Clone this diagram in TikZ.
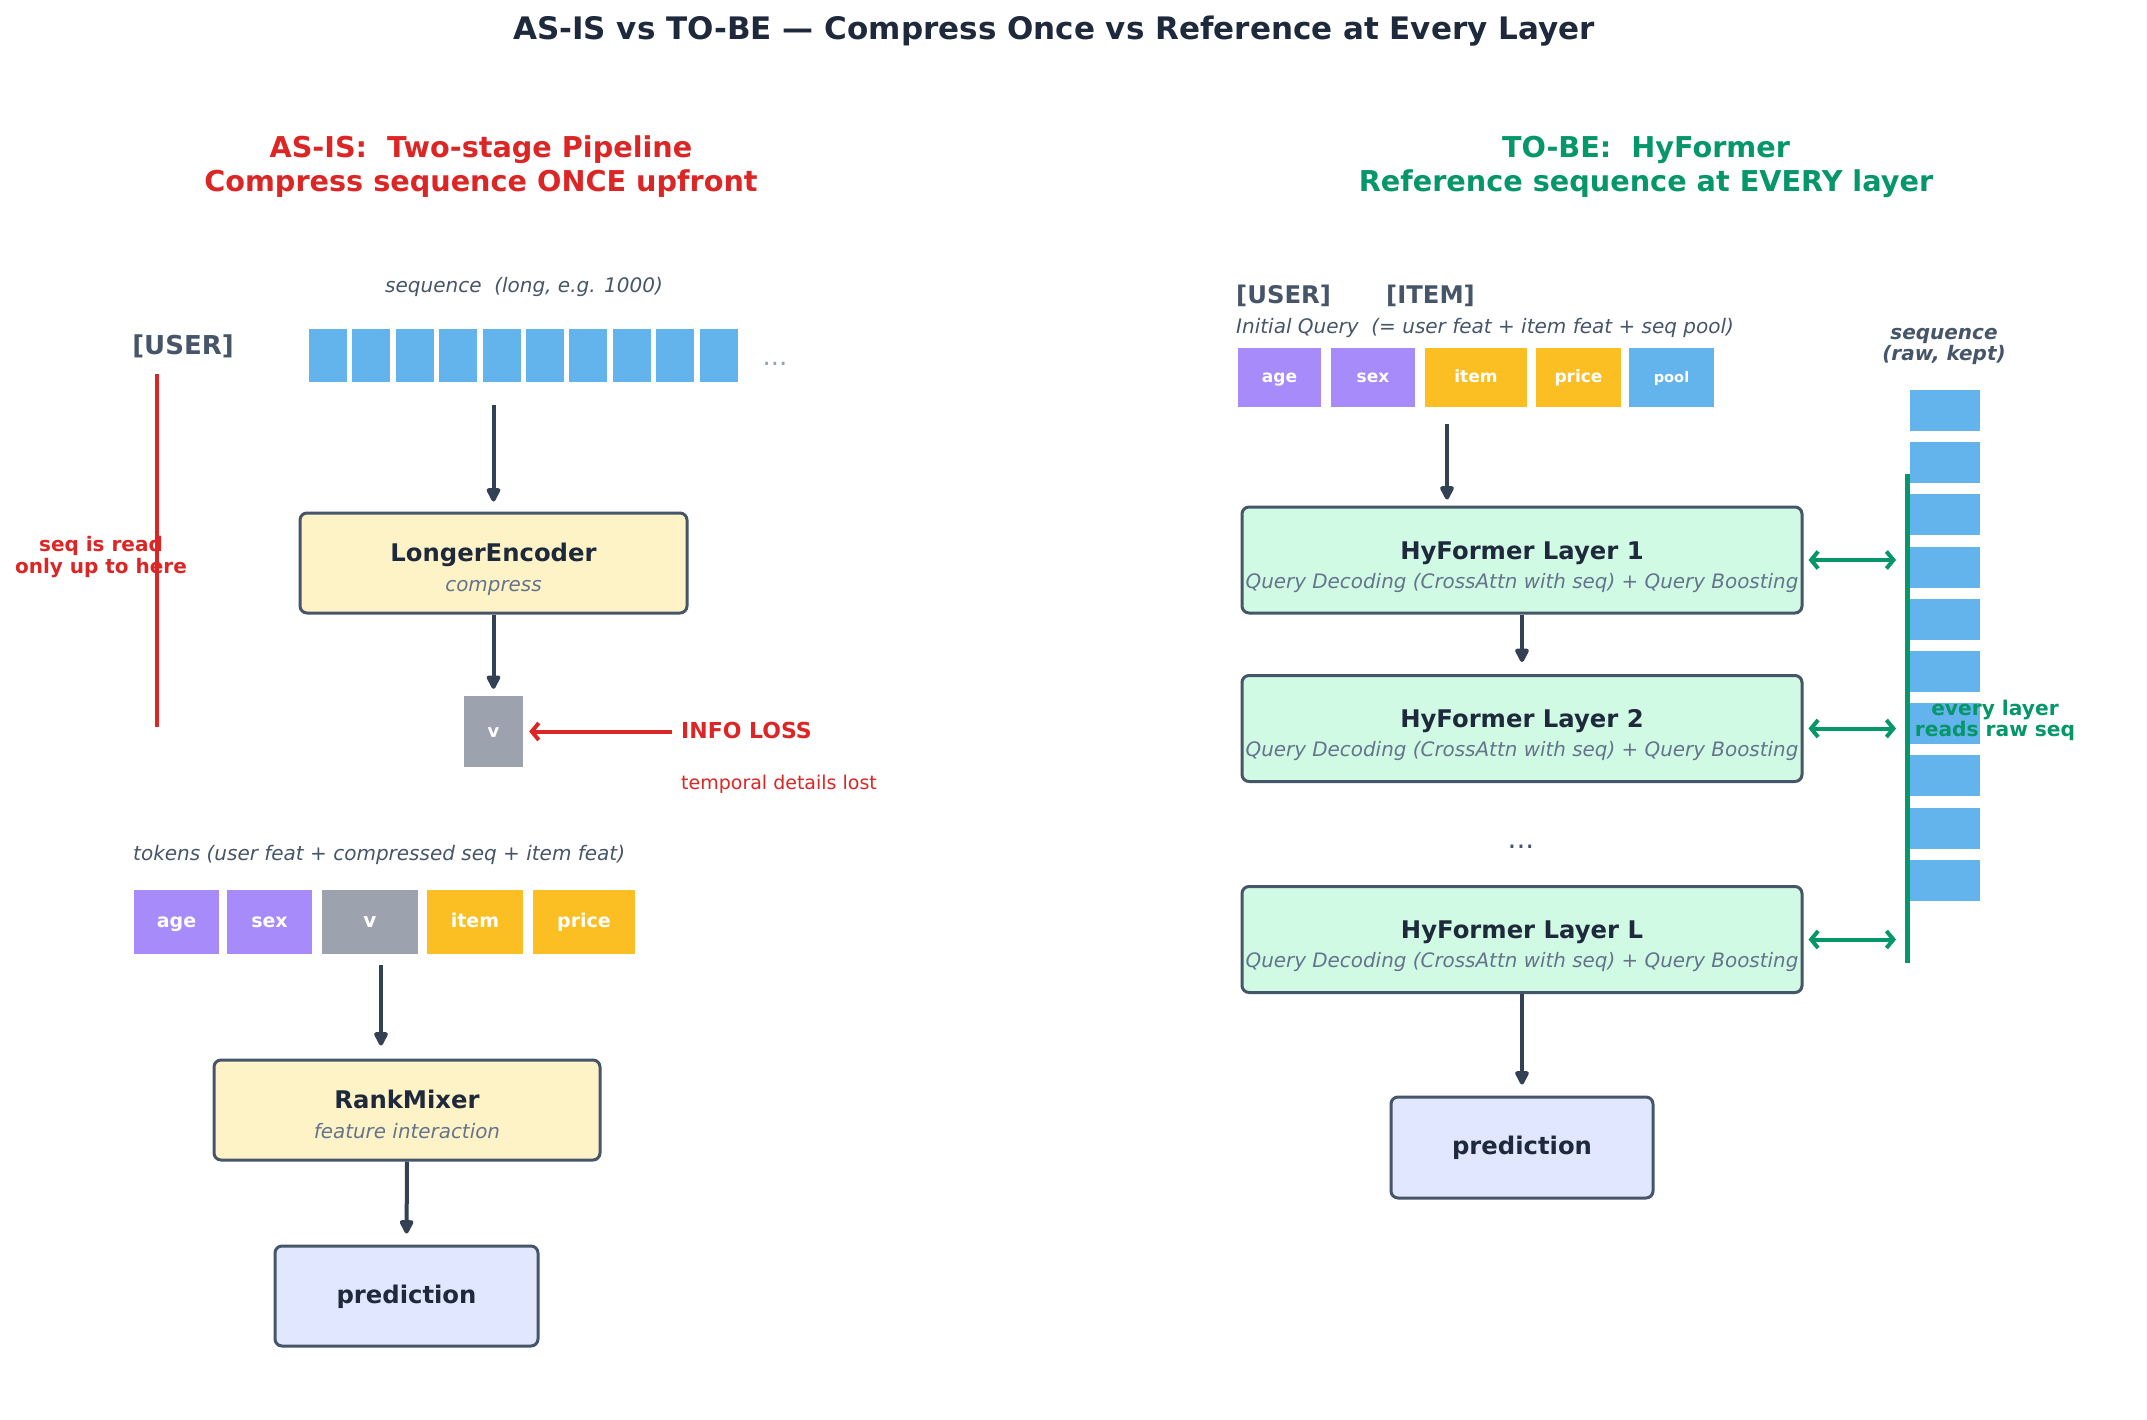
\documentclass[tikz,border=0pt]{standalone}
\usepackage{fontspec}
\setmainfont{DejaVu Sans}
\usetikzlibrary{arrows.meta}
\definecolor{ttl}{HTML}{1E293B}
\definecolor{slate}{HTML}{475569}
\definecolor{subc}{HTML}{64748B}
\definecolor{arr}{HTML}{334155}
\definecolor{redc}{HTML}{DC2626}
\definecolor{greenc}{HTML}{059669}
\definecolor{bluec}{HTML}{63B3ED}
\definecolor{purp}{HTML}{A78BFA}
\definecolor{amber}{HTML}{FBBF24}
\definecolor{grayc}{HTML}{9CA3AF}
\definecolor{dotc}{HTML}{94A3B8}
\definecolor{yellowf}{HTML}{FEF3C7}
\definecolor{greenf}{HTML}{D1FAE5}
\definecolor{indf}{HTML}{E0E7FF}
\newcommand{\myfs}[1]{\fontsize{#1}{#1}\selectfont}
\tikzset{
  txt/.style={inner sep=0pt, anchor=base},
  box/.style={draw=slate, line width=3pt, rounded corners=7pt, inner sep=0pt},
  tok/.style={inner sep=0pt, text=white, font=\bfseries\myfs{17}, text depth=0pt},
  seqblk/.style={fill=bluec, inner sep=0pt},
  flow/.style={draw=arr, line width=4pt, -{Triangle[length=16pt,width=15pt,round]}},
  link/.style={draw=greenc, line width=4pt, {Straight Barb[length=7pt,width=17pt]}-{Straight Barb[length=7pt,width=17pt]}},
  redarr/.style={draw=redc, line width=4pt, -{Straight Barb[length=7pt,width=17pt]}},
  boxtitle/.style={txt, text=ttl, font=\bfseries\myfs{24.3}},
  boxsub/.style={txt, text=subc, font=\itshape\myfs{19.9}},
  note/.style={txt, text=slate, font=\itshape\myfs{20}}
}
\begin{document}
\begin{tikzpicture}[x=1pt,y=-1pt]
\useasboundingbox[fill=white] (0,0) rectangle (2147,1419);

% ---------- title ----------
\node[txt, text=ttl, font=\bfseries\myfs{31}] (title) at (1054,39.3) {AS-IS vs TO-BE — Compress Once vs Reference at Every Layer};

% ---------- headings ----------
\node[txt, text=redc, font=\bfseries\myfs{28.7}] (hl1) at (481,157.5) {AS-IS: \ Two-stage Pipeline};
\node[txt, text=redc, font=\bfseries\myfs{28.7}] (hl2) at (481,191.5) {Compress sequence ONCE upfront};
\node[txt, text=greenc, font=\bfseries\myfs{28.7}] (hr1) at (1646,157.5) {TO-BE: \ HyFormer};
\node[txt, text=greenc, font=\bfseries\myfs{28.7}] (hr2) at (1646,191.5) {Reference sequence at EVERY layer};

% ================= LEFT =================
\node[note] (seqlab) at (524,292.6) {sequence \ (long, e.g. 1000)};
\node[txt, text=slate, font=\bfseries\myfs{26}] (userL) at (183,354.6) {[USER]};
\foreach \i in {0,...,9}
  \node[seqblk, minimum width=38pt, minimum height=53pt] (s\i) at ({328+43.4*\i},355.5) {};
\node[txt, text=dotc, font=\myfs{26}] (dotsL) at (775,365) {...};

% red bracket line
\coordinate (rtop) at (157,374);
\coordinate (rbot) at (157,727);
\draw[redc, line width=4pt] (rtop) -- (rbot);
\node[txt, text=redc, font=\bfseries\myfs{20}] (readA) at (101,551.6) {seq is read};
\node[txt, text=redc, font=\bfseries\myfs{20}] (readB) at (101,573.6) {only up to here};

% LongerEncoder
\node[box, fill=yellowf, minimum width=387pt, minimum height=100pt] (le) at (493.5,563) {};
\node[boxtitle] (leT) at (493.5,561.7) {LongerEncoder};
\node[boxsub] (leS) at (493.5,591.7) {compress};
\coordinate (seqout) at (493.5,405);
\draw[flow, shorten >=10pt] (seqout) -- (seqout |- le.north);

% v
\node[fill=grayc, inner sep=0pt, minimum width=59pt, minimum height=71pt, text=white, font=\bfseries\myfs{18}, text height=11pt, text depth=0pt] (v) at (493.5,731.5) {v};
\draw[flow, shorten >=7pt] (le.south) -- (v.north);

% info loss
\coordinate (infoS) at (672,731.5);
\draw[redarr, shorten >=6pt] (infoS) -- (v.east);
\node[txt, anchor=base west, text=redc, font=\bfseries\myfs{22}] (info) at (681,738.5) {INFO LOSS};
\node[txt, anchor=base west, text=redc, font=\myfs{19}] (lost) at (681,789.3) {temporal details lost};

% tokens
\node[note, anchor=base west] (toklab) at (133,860.8) {tokens (user feat + compressed seq + item feat)};
\node[tok, fill=purp, minimum width=85pt, minimum height=64pt, font=\bfseries\myfs{19}, text height=11.6pt] (tage) at (176.5,921.5) {age};
\node[tok, fill=purp, minimum width=85pt, minimum height=64pt, font=\bfseries\myfs{19}, text height=11.6pt] (tsex) at (269.5,921.5) {sex};
\node[tok, fill=grayc, minimum width=96pt, minimum height=64pt, font=\bfseries\myfs{20}, text height=11.6pt] (tv) at (370,921.5) {v};
\node[tok, fill=amber, minimum width=96pt, minimum height=64pt, font=\bfseries\myfs{19}, text height=11.6pt] (titem) at (475,921.5) {item};
\node[tok, fill=amber, minimum width=102pt, minimum height=64pt, font=\bfseries\myfs{19}, text height=11.6pt] (tprice) at (584,921.5) {price};

% RankMixer
\node[box, fill=yellowf, minimum width=386pt, minimum height=100pt] (rm) at (407,1110) {};
\node[boxtitle] (rmT) at (407,1108.7) {RankMixer};
\node[boxsub] (rmS) at (407,1138.7) {feature interaction};
\coordinate (tokout) at (381,965);
\draw[flow, shorten >=13pt] (tokout) -- (tokout |- rm.north);

% prediction left
\node[box, fill=indf, minimum width=263pt, minimum height=100pt, text=ttl, font=\bfseries\myfs{24.3}, text height=14pt, text depth=0pt] (predL) at (406.5,1296) {prediction};
\draw[flow, shorten >=11pt] (rm.south) -- (predL.north);

% ================= RIGHT =================
\node[txt, anchor=base west, text=slate, font=\bfseries\myfs{24.3}] (userR) at (1236,303.3) {[USER]};
\node[txt, anchor=base west, text=slate, font=\bfseries\myfs{24.3}] (itemR) at (1386,303.3) {[ITEM]};
\node[note, anchor=base west] (iq) at (1236,333.3) {Initial Query \ (= user feat + item feat + seq pool)};

\node[tok, fill=purp, minimum width=83pt, minimum height=59pt, text height=9.6pt] (qage) at (1279.5,377.5) {age};
\node[tok, fill=purp, minimum width=84pt, minimum height=59pt, text height=9.6pt] (qsex) at (1373,377.5) {sex};
\node[tok, fill=amber, minimum width=102pt, minimum height=59pt, text height=9.6pt] (qitem) at (1476,377.5) {item};
\node[tok, fill=amber, minimum width=85pt, minimum height=59pt, text height=9.6pt] (qprice) at (1578.5,377.5) {price};
\node[tok, fill=bluec, minimum width=85pt, minimum height=59pt, font=\bfseries\myfs{14.6}, text height=9.6pt] (qpool) at (1671.5,377.5) {pool};

% sequence column
\node[txt, text=slate, font=\bfseries\itshape\myfs{20}] (rsA) at (1944,339.3) {sequence};
\node[txt, text=slate, font=\bfseries\itshape\myfs{20}] (rsB) at (1944,360.7) {(raw, kept)};
\foreach \i in {0,...,9}
  \node[seqblk, minimum width=70pt, minimum height=41pt] (r\i) at (1945,{410.5+52.2*\i}) {};

% layers
\node[box, fill=greenf, minimum width=560pt, minimum height=106pt] (l1) at (1522,560) {};
\node[boxtitle] (l1T) at (1522,559) {HyFormer Layer 1};
\node[boxsub] (l1S) at (1522,588.3) {Query Decoding (CrossAttn with seq) + Query Boosting};

\node[box, fill=greenf, minimum width=560pt, minimum height=106pt] (l2) at (1522,728.5) {};
\node[boxtitle] (l2T) at (1522,727.5) {HyFormer Layer 2};
\node[boxsub] (l2S) at (1522,756.8) {Query Decoding (CrossAttn with seq) + Query Boosting};

\node[txt, text=slate, font=\myfs{28}] (dotsR) at (1521,848) {...};

\node[box, fill=greenf, minimum width=560pt, minimum height=106pt] (lL) at (1522,939.5) {};
\node[boxtitle] (lLT) at (1522,938.5) {HyFormer Layer L};
\node[boxsub] (lLS) at (1522,967.8) {Query Decoding (CrossAttn with seq) + Query Boosting};

\node[box, fill=indf, minimum width=262pt, minimum height=101pt, text=ttl, font=\bfseries\myfs{24.3}, text height=13.5pt, text depth=0pt] (predR) at (1522,1147.5) {prediction};

\coordinate (qout) at (1447,424);
\draw[flow, shorten >=6pt] (qout) -- (qout |- l1.north);
\draw[flow, shorten >=12pt] (l1.south) -- (l2.north);
\draw[flow, shorten >=11pt] (lL.south) -- (predR.north);

% green line and links
\coordinate (gtop) at (1907,474);
\coordinate (gbot) at (1907,963);
\draw[greenc, line width=5pt] (gtop) -- (gbot);
\draw[link, shorten <=5pt, shorten >=11pt] (l1.east) -- (l1.east -| gtop);
\draw[link, shorten <=5pt, shorten >=11pt] (l2.east) -- (l2.east -| gtop);
\draw[link, shorten <=5pt, shorten >=11pt] (lL.east) -- (lL.east -| gtop);

\node[txt, text=greenc, font=\bfseries\myfs{20.2}] (evA) at (1995,715.7) {every layer};
\node[txt, text=greenc, font=\bfseries\myfs{20.2}] (evB) at (1995,736.7) {reads raw seq};
\end{tikzpicture}
\end{document}
